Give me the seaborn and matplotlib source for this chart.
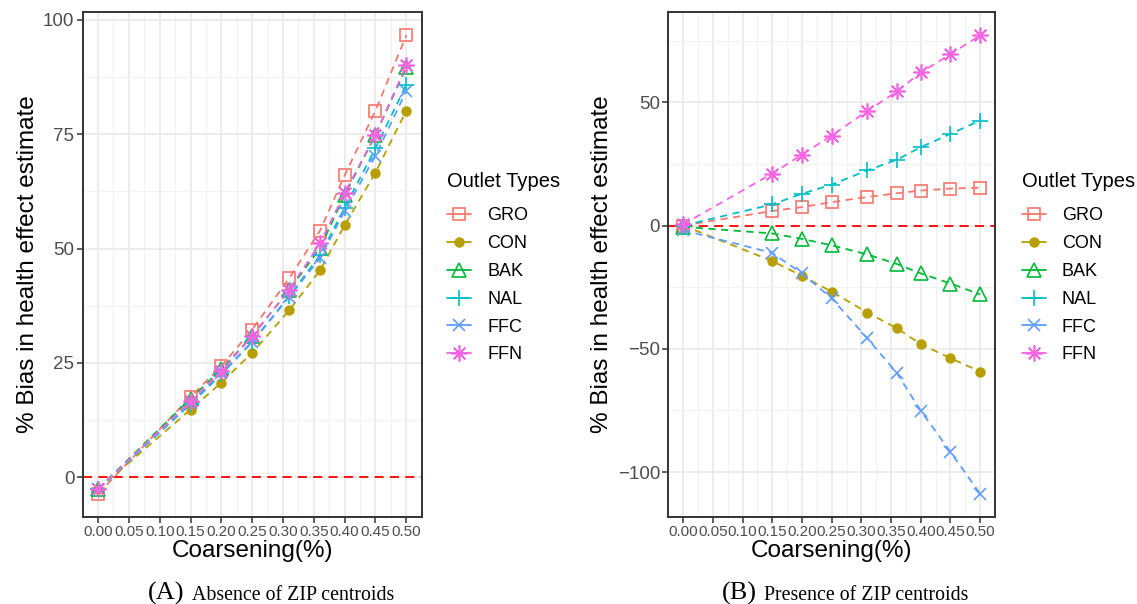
import numpy as np
import pandas as pd
import seaborn as sns
import matplotlib
matplotlib.use("Agg")
import matplotlib.pyplot as plt
from matplotlib.lines import Line2D

# Coarsening levels
coarsening = [0.00, 0.15, 0.20, 0.25, 0.31, 0.36, 0.40, 0.45, 0.50]
outlet_types = ["GRO", "CON", "BAK", "NAL", "FFC", "FFN"]

# (A) bias without ZIP centroids
absent_gro = [-3.6, 17.6, 24.3, 32.3, 43.5, 53.9, 66.0, 80.1, 96.6]
absent_con = [-2.6, 14.8, 20.7, 27.2, 36.5, 45.2, 55.1, 66.6, 80.1]
absent_bak = [-2.5, 17.2, 23.6, 30.9, 40.9, 50.1, 61.7, 74.8, 89.6]
absent_nal = [-2.6, 16.0, 22.5, 29.6, 39.6, 48.5, 58.9, 71.9, 85.8]
absent_ffc = [-2.6, 16.3, 22.9, 29.5, 39.4, 47.9, 58.2, 70.3, 84.4]
absent_ffn = [-2.5, 16.6, 23.2, 30.9, 41.0, 51.1, 62.1, 74.9, 90.0]

# (B) bias with ZIP centroids
present_gro = [0.0, 5.9, 7.5, 9.5, 11.6, 13.1, 14.2, 15.0, 15.4]
present_con = [0.0, -14.4, -20.4, -26.8, -35.3, -41.7, -48.1, -53.8, -59.2]
present_bak = [-0.5, -3.2, -5.4, -8.0, -11.7, -15.6, -19.4, -23.5, -27.9]
present_nal = [0.0, 8.6, 12.9, 16.6, 22.4, 26.7, 31.8, 37.2, 42.6]
present_ffc = [-1.9, -11.1, -19.4, -29.5, -45.7, -59.9, -75.1, -91.8, -108.8]
present_ffn = [0.5, 21.1, 28.8, 36.5, 46.5, 54.4, 62.1, 69.5, 77.2]

x_ticks = [0.00, 0.05, 0.10, 0.15, 0.20, 0.25, 0.30, 0.35, 0.40, 0.45, 0.50]
x_tick_labels = ["0.00", "0.05", "0.10", "0.15", "0.20", "0.25",
                 "0.30", "0.35", "0.40", "0.45", "0.50"]


def long_table(series):
    rows = []
    for name, vals in zip(outlet_types, series):
        for xv, yv in zip(coarsening, vals):
            rows.append({"coarsening": xv, "bias": yv, "outlet": name})
    return pd.DataFrame(rows)


df_a = long_table([absent_gro, absent_con, absent_bak, absent_nal, absent_ffc, absent_ffn])
df_b = long_table([present_gro, present_con, present_bak, present_nal, present_ffc, present_ffn])

sns.set_theme(style="whitegrid")
plt.rcParams["font.family"] = ["Liberation Sans", "DejaVu Sans"]
plt.rcParams["text.color"] = "black"
plt.rcParams["axes.labelcolor"] = "black"

palette = {"GRO": "#F8766D", "CON": "#B79F00", "BAK": "#00BA38",
           "NAL": "#00BFC4", "FFC": "#619CFF", "FFN": "#F564E3"}
marker_style = {
    "GRO": dict(marker="s", markersize=9, markerfacecolor="none", markeredgewidth=1.2),
    "CON": dict(marker="o", markersize=7.5, markeredgewidth=0),
    "BAK": dict(marker="^", markersize=10, markerfacecolor="none", markeredgewidth=1.2),
    "NAL": dict(marker="+", markersize=11.5, markeredgewidth=1.2),
    "FFC": dict(marker="x", markersize=8.5, markeredgewidth=1.2),
    "FFN": dict(marker=(8, 2, 0), markersize=11.5, markeredgewidth=1.2),
}


def style_for(name):
    kw = dict(marker_style[name])
    kw["markeredgecolor"] = palette[name]
    return kw


fig = plt.figure(figsize=(11.37, 6.04), dpi=100)
ax_a = fig.add_axes([0.0727, 0.1445, 0.2982, 0.8351])
ax_b = fig.add_axes([0.5878, 0.1445, 0.2873, 0.8351])


def draw_panel(ax, df, yticks):
    ax.axhline(0, color="#FF0000", lw=1.3, dashes=(5, 3.5), zorder=1)
    for name in outlet_types:
        sub = df[df["outlet"] == name]
        sns.lineplot(data=sub, x="coarsening", y="bias", ax=ax,
                     color=palette[name], lw=1.3, dashes=False,
                     label=name, zorder=3, **style_for(name))
        ax.lines[-1].set_dashes((4, 3))
    ax.set_xlim(-0.025, 0.525)
    ax.set_xticks(x_ticks)
    ax.set_xticklabels(x_tick_labels)
    ax.set_xticks(np.arange(0.025, 0.5, 0.05), minor=True)
    ax.set_yticks(yticks)
    ax.set_yticks(np.array(yticks[:-1]) + (yticks[1] - yticks[0]) / 2, minor=True)
    ax.grid(which="major", color="#EBEBEB", lw=1.3)
    ax.grid(which="minor", color="#F2F2F2", lw=0.8)
    ax.set_facecolor("white")
    for sp in ax.spines.values():
        sp.set_color("#333333")
        sp.set_linewidth(1.4)
    ax.tick_params(axis="both", which="major", length=4, width=1.1, color="#333333",
                   direction="out", bottom=True, left=True)
    ax.tick_params(axis="y", labelsize=13.5, labelcolor="#4D4D4D", pad=2)
    ax.tick_params(axis="x", labelsize=11, labelcolor="#4D4D4D", pad=2)
    ax.tick_params(which="minor", length=0)
    ax.set_xlabel("Coarsening(%)", fontsize=17.5, labelpad=1, color="black")
    ax.set_ylabel("% Bias in health effect estimate", fontsize=17.5, labelpad=3,
                  color="black")
    ax.get_legend().remove()


draw_panel(ax_a, df_a, [0, 25, 50, 75, 100])
ax_a.set_ylim(-8.6, 101.6)
draw_panel(ax_b, df_b, [-100, -50, 0, 50])
ax_b.set_ylim(-118.1, 86.5)
ax_b.set_yticks([-75, -25, 25, 75], minor=True)


def add_legend(anchor_x):
    handles = [Line2D([0], [0], color=palette[n], lw=1.3, **style_for(n))
               for n in outlet_types]
    leg = fig.legend(handles, outlet_types, title="Outlet Types",
                     loc="center left", bbox_to_anchor=(anchor_x, 0.557),
                     frameon=False, fontsize=13, title_fontsize=14.5,
                     handlelength=1.3, handletextpad=0.9, labelspacing=0.6,
                     borderpad=0, labelcolor="black")
    leg.get_title().set_color("black")
    leg._legend_box.align = "left"
    leg._legend_box.sep = 12


add_legend(0.3855)
add_legend(0.8910)

# Panel captions
serif = ["Liberation Serif", "DejaVu Serif"]
fig.text(0.1302, 0.007, "(A)", fontsize=19, family=serif, ha="left", va="baseline")
fig.text(0.1690, 0.007, "Absence of ZIP centroids", fontsize=14.3, family=serif,
         ha="left", va="baseline")
fig.text(0.6350, 0.007, "(B)", fontsize=19, family=serif, ha="left", va="baseline")
fig.text(0.6720, 0.007, "Presence of ZIP centroids", fontsize=14.3, family=serif,
         ha="left", va="baseline")

fig.savefig("out.png", dpi=100, facecolor="white")
